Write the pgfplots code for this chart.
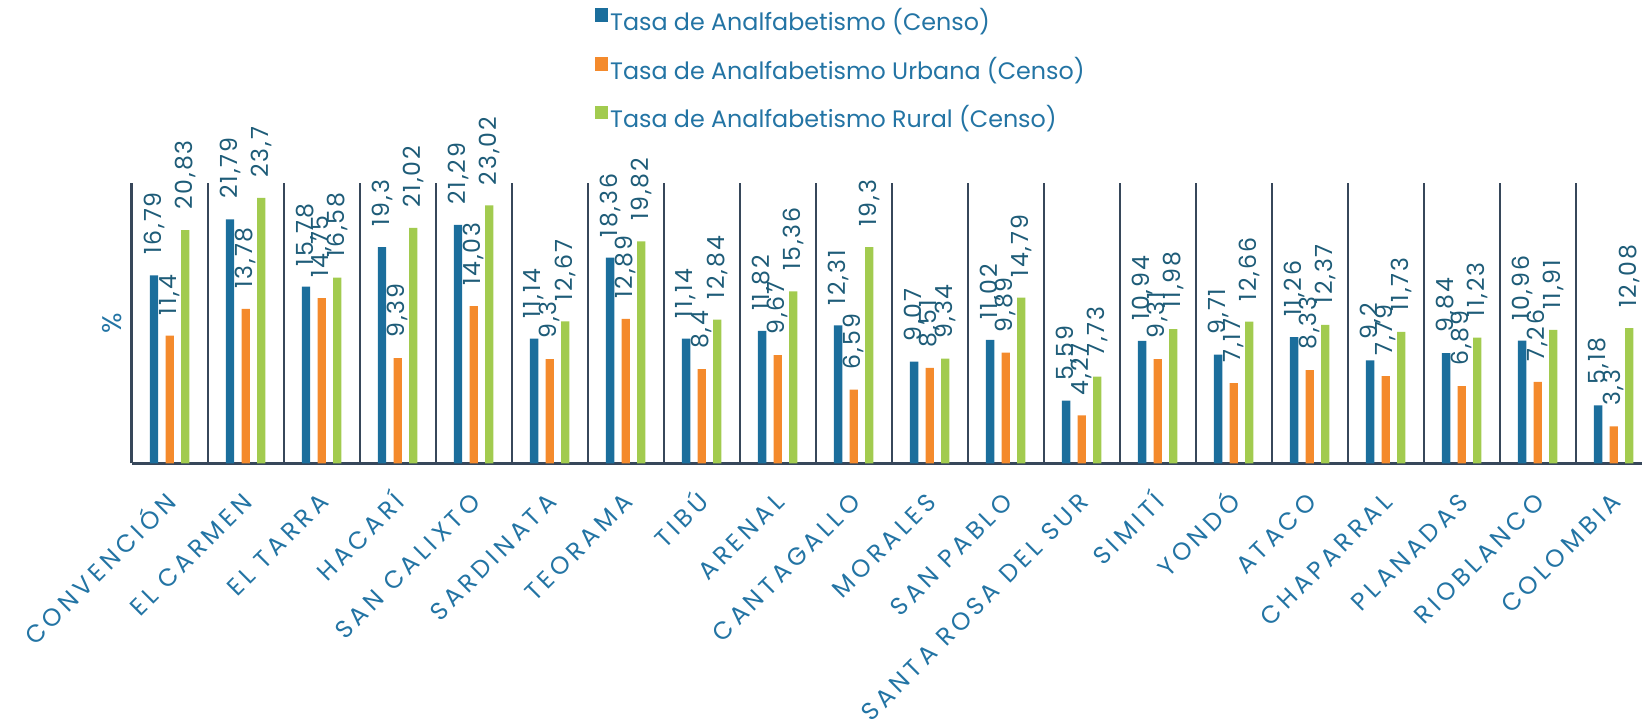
\documentclass[border=0pt]{standalone}
\usepackage{fontspec}
\setmainfont{Poppins}
\newfontfamily\catfont[LetterSpace=17]{Poppins}
\newfontfamily\valfont[LetterSpace=8]{Poppins}
\usepackage{pgfplots}
\pgfplotsset{compat=1.18}
\usepackage{pgfplotstable}
\definecolor{cA}{HTML}{1B6E9C}
\definecolor{cB}{HTML}{F48A2C}
\definecolor{cC}{HTML}{A2CB4F}
\definecolor{sepc}{HTML}{37475A}
\definecolor{labc}{HTML}{2374A4}
\definecolor{valc}{HTML}{1E5C78}
\pgfkeys{/pgf/number format/.cd, use comma, fixed, precision=2, 1000 sep={}, assume math mode=true}
\pgfplotstableread{
x a b c
0 16.79 11.4 20.83
1 21.79 13.78 23.7
2 15.78 14.75 16.58
3 19.3 9.39 21.02
4 21.29 14.03 23.02
5 11.14 9.3 12.67
6 18.36 12.89 19.82
7 11.14 8.4 12.84
8 11.82 9.67 15.36
9 12.31 6.59 19.3
10 9.07 8.51 9.34
11 11.02 9.89 14.79
12 5.59 4.27 7.73
13 10.94 9.31 11.98
14 9.71 7.17 12.66
15 11.26 8.33 12.37
16 9.2 7.79 11.73
17 9.84 6.89 11.23
18 10.96 7.26 11.91
19 5.18 3.3 12.08
}\data
\begin{document}
\begin{tikzpicture}
\begin{axis}[
  name=ax, at={(0,0)}, anchor=south west,
  scale only axis, width=760pt, height=140pt,
  xmin=-0.5, xmax=19.5, ymin=0, ymax=25,
  axis x line*=bottom, axis y line*=left,
  axis line style={draw=sepc, line width=1.3pt},
  ytick=\empty,
  xtick={0,...,19}, major tick length=0pt,
  xticklabels={CONVENCIÓN,EL CARMEN,EL TARRA,HACARÍ,SAN CALIXTO,SARDINATA,TEORAMA,TIBÚ,ARENAL,CANTAGALLO,MORALES,SAN PABLO,SANTA ROSA DEL SUR,SIMITÍ,YONDÓ,ATACO,CHAPARRAL,PLANADAS,RIOBLANCO,COLOMBIA},
  xticklabel style={xshift=-2pt, font=\catfont\fontsize{12.3}{13}\selectfont, text=labc, rotate=45, anchor=north east, inner sep=0pt, text height=8.7pt, text depth=0pt},
  xticklabel shift=14pt,
  extra x ticks={0.5,1.5,...,18.5},
  extra x tick labels={},
  extra x tick style={grid=major, major grid style={draw=sepc, line width=1pt}, major tick length=0pt},
  ylabel={\%},
  every axis y label/.style={at={(axis description cs:0,0.5)}, rotate=90, anchor=south, inner xsep=0pt, inner ysep=4.9pt, font=\fontsize{13.5}{14}\selectfont, text=labc},
  clip=false,
  nodes near coords,
  nodes near coords align=horizontal,
  every node near coord/.append style={rotate=90, anchor=west, font=\valfont\fontsize{11.8}{12}\selectfont, text=valc, inner xsep=10pt, inner ysep=0pt},
  legend style={at={(axis description cs:0.3003,1.641)}, anchor=north west, draw=none, fill=none, legend cell align=left, row sep=10.3pt, font=\fontsize{11.9}{13}\selectfont, text=labc, nodes={inner sep=0pt, text height=9.5pt, text depth=3pt}, /tikz/every odd column/.append style={column sep=1pt}},
]
\addplot[ybar, bar width=4.15pt, bar shift=0pt, fill=cA, draw=none, legend image code/.code={\fill[cA] (0pt,1.0pt) rectangle (6.8pt,7.8pt);}] table[x expr=\thisrow{x}-0.2053,y=a]{\data};
\addplot[ybar, bar width=4.15pt, bar shift=0pt, fill=cB, draw=none, legend image code/.code={\fill[cB] (0pt,1.0pt) rectangle (6.8pt,7.8pt);}] table[x=x,y=b]{\data};
\addplot[ybar, bar width=4.15pt, bar shift=0pt, fill=cC, draw=none, legend image code/.code={\fill[cC] (0pt,1.0pt) rectangle (6.8pt,7.8pt);}] table[x expr=\thisrow{x}+0.2053,y=c]{\data};
\legend{Tasa de Analfabetismo (Censo),Tasa de Analfabetismo Urbana (Censo),Tasa de Analfabetismo Rural (Censo)}
\end{axis}
\pgfresetboundingbox
\path ([shift={(-65.85pt,-130.85pt)}]ax.south west) rectangle ([shift={(755.15pt,231.65pt)}]ax.south west);
\end{tikzpicture}
\end{document}
